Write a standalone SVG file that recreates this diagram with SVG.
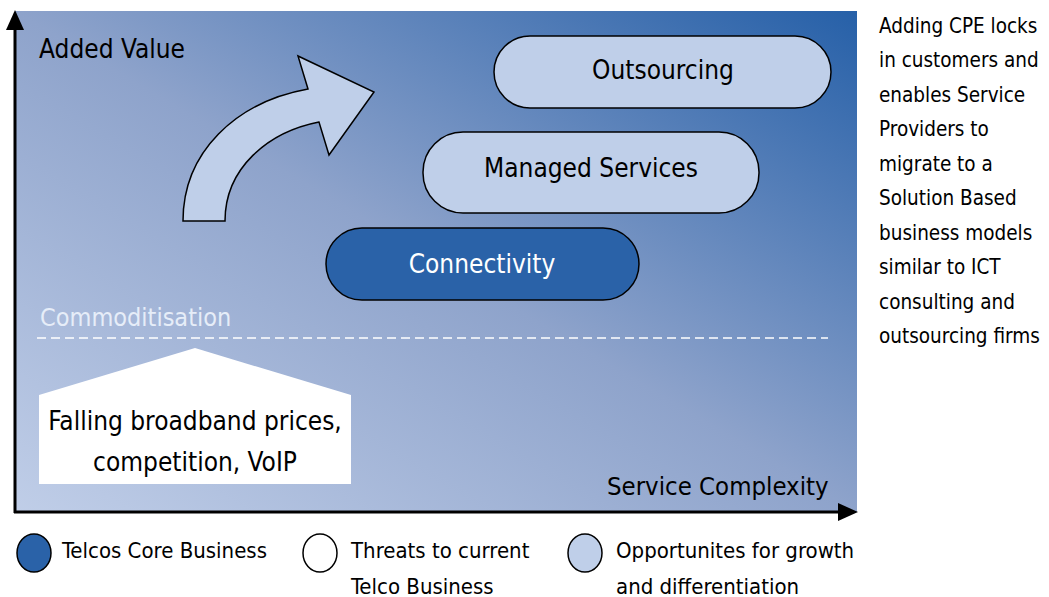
<svg xmlns="http://www.w3.org/2000/svg" width="1049" height="597" viewBox="0 0 1049 597">
<defs>
<linearGradient id="bg" x1="0" y1="1" x2="1" y2="0">
<stop offset="0" stop-color="#c0cee8"/>
<stop offset="0.5" stop-color="#8ea3cb"/>
<stop offset="1" stop-color="#2660a8"/>
</linearGradient>
</defs>
<style>
text{font-family:"Liberation Sans Narrow","DejaVu Sans Condensed","Liberation Sans",sans-serif;font-stretch:condensed;fill:#000}
.pill{stroke:#000;stroke-width:1.5}
.light{fill:#bfcfe9}
.dark{fill:#2a62a8}
.big{font-size:26px}
.leg{font-size:22px}
.side{font-size:20.5px}
</style>
<rect x="15" y="11" width="842" height="501" fill="url(#bg)"/>
<g id="axes">
<line x1="15" y1="513" x2="15" y2="26" stroke="#000" stroke-width="3"/>
<path d="M6,30 L15,10 L24,30 Z" fill="#000"/>
<line x1="14" y1="512" x2="842" y2="512" stroke="#000" stroke-width="3"/>
<path d="M838,503 L858,512 L838,521 Z" fill="#000"/>
</g>
<text x="39" y="58" class="big">Added Value</text>
<text x="607" y="495" style="font-size:25.5px">Service Complexity</text>
<g id="growth-arrow">
<path d="M183,221 C183,152 236,102 308,89 L298,56 L374,92 L329,155 L319,122 C268,132 225,168 225,221 Z" fill="#bfcfe9" stroke="#000" stroke-width="1.5"/>
</g>
<g id="outsourcing">
<rect x="494" y="36" width="337" height="72" rx="36" class="pill light"/>
<text x="663" y="79" text-anchor="middle" class="big">Outsourcing</text>
</g>
<g id="managed-services">
<rect x="423" y="132" width="336" height="81" rx="40" class="pill light"/>
<text x="591" y="177" text-anchor="middle" class="big">Managed Services</text>
</g>
<g id="connectivity">
<rect x="326" y="228" width="313" height="72" rx="36" class="pill dark"/>
<text x="482" y="273" text-anchor="middle" class="big" style="fill:#fff">Connectivity</text>
</g>
<g id="commoditisation">
<text x="40" y="326" style="font-size:25px;fill:#e6edf8">Commoditisation</text>
<line x1="37" y1="338" x2="828" y2="338" stroke="#fff" stroke-width="1.5" stroke-dasharray="9,5"/>
</g>
<g id="threats">
<path d="M195,348 L351,395 L351,484 L39,484 L39,395 Z" fill="#fff"/>
<text x="195" y="430" text-anchor="middle" class="big">Falling broadband prices,</text>
<text x="195" y="471" text-anchor="middle" class="big">competition, VoIP</text>
</g>
<g id="legend">
<ellipse cx="34" cy="553" rx="17" ry="19" class="pill dark"/>
<text x="62" y="558" class="leg">Telcos Core Business</text>
<ellipse cx="320" cy="553" rx="17" ry="19" class="pill" fill="#fff"/>
<text x="351" y="558" class="leg">Threats to current</text>
<text x="351" y="594" class="leg">Telco Business</text>
<ellipse cx="585" cy="553" rx="17" ry="19" class="pill light"/>
<text x="616" y="558" class="leg">Opportunites for growth</text>
<text x="616" y="594" class="leg">and differentiation</text>
</g>
<g id="side-note">
<text x="879" y="33" class="side">Adding CPE locks</text>
<text x="879" y="67" class="side">in customers and</text>
<text x="879" y="102" class="side">enables Service</text>
<text x="879" y="136" class="side">Providers to</text>
<text x="879" y="171" class="side">migrate to a</text>
<text x="879" y="205" class="side">Solution Based</text>
<text x="879" y="240" class="side">business models</text>
<text x="879" y="274" class="side">similar to ICT</text>
<text x="879" y="309" class="side">consulting and</text>
<text x="879" y="343" class="side">outsourcing firms</text>
</g>
</svg>
